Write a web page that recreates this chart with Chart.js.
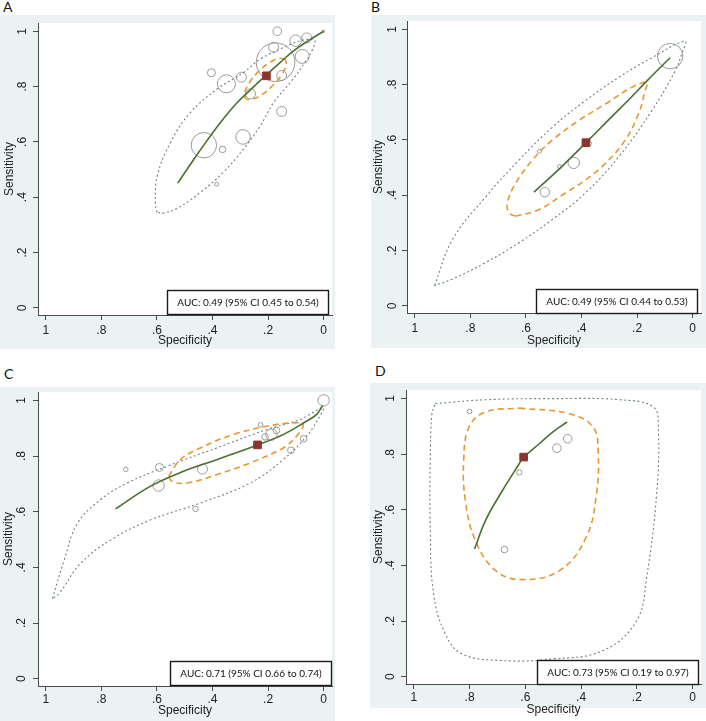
<!DOCTYPE html>
<html><head><meta charset="utf-8">
<script src="https://cdn.jsdelivr.net/npm/chart.js@4.4.0/dist/chart.umd.min.js"></script>
<style>
html,body{margin:0;padding:0;background:#fff;width:706px;height:721px;overflow:hidden;}
.panel{position:absolute;}
.panel canvas{display:block;}
.lbl{position:absolute;font-family:Lato,"Open Sans",sans-serif;font-size:14px;line-height:14px;color:#111;}
</style></head><body>
<div class="lbl" style="left:3px;top:0px">A</div>
<div class="lbl" style="left:371px;top:0px">B</div>
<div class="lbl" style="left:4px;top:367px">C</div>
<div class="lbl" style="left:375px;top:364px">D</div>
<div class="panel" id="pA" style="left:0px;top:15px"><canvas id="cA" width="335" height="334"></canvas></div>
<div class="panel" id="pB" style="left:371px;top:15px"><canvas id="cB" width="335" height="333"></canvas></div>
<div class="panel" id="pC" style="left:0px;top:387px"><canvas id="cC" width="335" height="334"></canvas></div>
<div class="panel" id="pD" style="left:370px;top:383px"><canvas id="cD" width="336" height="338"></canvas></div>
<script>
// ---------- shared axis ticks ----------
const tickValues = [0, 0.2, 0.4, 0.6, 0.8, 1];
const tickLabels = ['0', '.2', '.4', '.6', '.8', '1'];
const aucLabels = [
  'AUC: 0.49 (95% CI 0.45 to 0.54)',
  'AUC: 0.49 (95% CI 0.44 to 0.53)',
  'AUC: 0.71 (95% CI 0.66 to 0.74)',
  'AUC: 0.73 (95% CI 0.19 to 0.97)'
];

// ---------- Panel A ----------
const aStudySpec = [0.167,0.101,0.061,0.077,0.180,0.173,0.404,0.350,0.296,0.263,0.151,0.151,0.290,0.431,0.364,0.385,0.001];
const aStudySens = [1.000,0.966,0.976,0.909,0.942,0.888,0.850,0.810,0.834,0.774,0.840,0.710,0.618,0.588,0.573,0.447,1.000];
const aStudyWeight = [4.3,5.7,5,7,5,19.3,4,9,5,5,5,5,7.3,12.7,3.3,2,1.3];
const aSummary = [0.206, 0.839];
const aCurveSpec = [0.525,0.470,0.423,0.370,0.315,0.260,0.209,0.157,0.107,0.052,0.000];
const aCurveSens = [0.451,0.533,0.600,0.672,0.738,0.792,0.840,0.887,0.930,0.968,1.000];
const aConfSpec = [0.138,0.161,0.196,0.235,0.267,0.283,0.280,0.258,0.222,0.184,0.152,0.135];
const aConfSens = [0.899,0.902,0.886,0.854,0.815,0.780,0.757,0.754,0.771,0.803,0.841,0.877];
const aPredSpec = [0.600,0.606,0.598,0.550,0.478,0.382,0.287,0.227,0.143,0.075,0.033,0.040,0.062,0.119,0.179,0.227,0.287,0.359,0.442,0.526,0.575];
const aPredSens = [0.345,0.380,0.480,0.600,0.708,0.792,0.852,0.900,0.942,0.968,0.968,0.935,0.895,0.816,0.744,0.660,0.576,0.492,0.419,0.360,0.343];

// ---------- Panel B ----------
const bStudySpec = [0.081,0.374,0.428,0.479,0.532,0.551];
const bStudySens = [0.903,0.587,0.517,0.503,0.411,0.559];
const bStudyWeight = [12.7,2.7,5.7,2,4.7,2];
const bSummary = [0.384, 0.590];
const bCurveSpec = [0.571,0.475,0.384,0.300,0.230,0.160,0.081];
const bCurveSens = [0.411,0.500,0.590,0.675,0.745,0.818,0.897];
const bConfSpec = [0.637,0.553,0.458,0.386,0.314,0.243,0.195,0.171,0.165,0.219,0.314,0.410,0.505,0.577,0.637,0.667,0.660];
const bConfSens = [0.324,0.348,0.408,0.455,0.515,0.599,0.694,0.778,0.808,0.790,0.730,0.670,0.599,0.527,0.443,0.372,0.335];
const bPredSpec = [0.929,0.864,0.744,0.625,0.505,0.386,0.266,0.147,0.028,0.040,0.063,0.147,0.266,0.386,0.505,0.625,0.744,0.864];
const bPredSens = [0.073,0.240,0.395,0.527,0.646,0.742,0.826,0.897,0.957,0.910,0.849,0.706,0.539,0.408,0.312,0.228,0.157,0.097];

// ---------- Panel C ----------
const cStudySpec = [0.000,0.227,0.211,0.188,0.170,0.072,0.118,0.436,0.591,0.594,0.712,0.461];
const cStudySens = [1.000,0.912,0.869,0.877,0.892,0.862,0.821,0.753,0.759,0.694,0.752,0.610];
const cStudyWeight = [5.7,2.3,3.3,5.7,3.3,3.3,3.3,5,4,5.7,2.3,2.7];
const cSummary = [0.238, 0.840];
const cCurveSpec = [0.749,0.624,0.504,0.385,0.238,0.146,0.062,0.026,0.003];
const cCurveSens = [0.610,0.691,0.745,0.787,0.840,0.877,0.925,0.949,0.982];
const cConfSpec = [0.558,0.516,0.444,0.325,0.205,0.110,0.074,0.098,0.146,0.265,0.385,0.492,0.546];
const cConfSens = [0.727,0.787,0.829,0.877,0.907,0.919,0.913,0.871,0.829,0.775,0.733,0.703,0.709];
const cPredSpec = [0.976,0.934,0.886,0.803,0.707,0.564,0.385,0.205,0.086,0.003,0.014,0.062,0.146,0.265,0.444,0.624,0.767,0.875,0.952];
const cPredSens = [0.288,0.426,0.558,0.643,0.703,0.763,0.829,0.895,0.931,0.974,0.943,0.871,0.787,0.703,0.631,0.570,0.498,0.414,0.306];

// ---------- Panel D ----------
const dStudySpec = [0.800,0.448,0.487,0.622,0.675];
const dStudySens = [0.953,0.855,0.821,0.734,0.457];
const dStudyWeight = [2.3,4.3,4.3,2.7,3.3];
const dSummary = [0.606, 0.789];
const dCurveSpec = [0.782,0.743,0.682,0.622,0.606,0.550,0.502,0.450];
const dCurveSens = [0.459,0.561,0.669,0.765,0.789,0.837,0.879,0.915];
const dConfSpec = [0.622,0.442,0.357,0.339,0.345,0.382,0.478,0.616,0.706,0.779,0.815,0.821,0.802,0.743];
const dConfSens = [0.965,0.945,0.897,0.813,0.657,0.501,0.381,0.349,0.381,0.489,0.633,0.777,0.897,0.951];
const dPredSpec = [0.923,0.743,0.502,0.261,0.141,0.123,0.129,0.165,0.201,0.321,0.502,0.682,0.827,0.887,0.929,0.941,0.941,0.935];
const dPredSens = [0.981,0.995,0.999,0.995,0.969,0.897,0.657,0.357,0.201,0.094,0.064,0.058,0.082,0.154,0.297,0.537,0.777,0.945];

// ---------- helpers ----------
function pts(xs, ys) { return xs.map((x, i) => ({ x: x, y: ys[i] })); }
function closedPts(xs, ys) { const p = pts(xs, ys); p.push({ x: xs[0], y: ys[0] }); return p; }
function bubbles(xs, ys, ws) { return xs.map((x, i) => ({ x: x, y: ys[i], r: ws[i] })); }

const panels = [
  { canvas: 'cA', spec: aStudySpec, sens: aStudySens, w: aStudyWeight, sum: aSummary, cx: aCurveSpec, cy: aCurveSens, kx: aConfSpec, ky: aConfSens, px: aPredSpec, py: aPredSens, auc: aucLabels[0],
    L: { grayH: 334, padTop: 8, padRight: 3, yW: 38, xH: 34, tickPad: 3, xTitlePad: 1, yTitlePad: 2.3, yLabOff: 15.8, boxInset: 4, boxBottom: 1 } },
  { canvas: 'cB', spec: bStudySpec, sens: bStudySens, w: bStudyWeight, sum: bSummary, cx: bCurveSpec, cy: bCurveSens, kx: bConfSpec, ky: bConfSens, px: bPredSpec, py: bPredSens, auc: aucLabels[1],
    L: { grayH: 333, padTop: 6, padRight: 5, yW: 36, xH: 35, tickPad: 3, xTitlePad: 0, yTitlePad: 0.9, yLabOff: 14.2, boxInset: 4, boxBottom: 0 } },
  { canvas: 'cC', spec: cStudySpec, sens: cStudySens, w: cStudyWeight, sum: cSummary, cx: cCurveSpec, cy: cCurveSens, kx: cConfSpec, ky: cConfSens, px: cPredSpec, py: cPredSens, auc: aucLabels[2],
    L: { grayH: 334, padTop: 5, padRight: 3, yW: 38, xH: 35, tickPad: 1.7, xTitlePad: 2.8, yTitlePad: 1.3, yLabOff: 16, boxInset: 1, boxBottom: 1 } },
  { canvas: 'cD', spec: dStudySpec, sens: dStudySens, w: dStudyWeight, sum: dSummary, cx: dCurveSpec, cy: dCurveSens, kx: dConfSpec, ky: dConfSens, px: dPredSpec, py: dPredSens, auc: aucLabels[3],
    L: { grayH: 325, padTop: 7, padRight: 5, yW: 36, xH: 37, tickPad: 1, xTitlePad: 4.3, yTitlePad: 1.8, yLabOff: 15.5, boxInset: 3, boxBottom: 0 } }
];

const AXIS_FONT = { family: '"Liberation Sans", Arial, sans-serif', size: 12 };
const AXIS_COLOR = '#4a4a4a';
const TEXT_COLOR = '#222';

const panelBg = {
  id: 'panelBg',
  beforeDraw(chart, args, opts) {
    const { ctx, chartArea: a } = chart;
    ctx.save();
    ctx.fillStyle = '#eaf2f3';
    ctx.fillRect(0, 0, chart.width, opts.grayH);
    ctx.fillStyle = '#ffffff';
    ctx.fillRect(a.left, a.top, a.right - a.left, a.bottom - a.top);
    ctx.restore();
  }
};

const yTickLabels = {
  id: 'yTickLabels',
  afterDraw(chart, args, opts) {
    const s = chart.scales.y, ctx = chart.ctx;
    ctx.save();
    ctx.font = '12px "Liberation Sans", Arial, sans-serif';
    ctx.fillStyle = TEXT_COLOR;
    ctx.textAlign = 'center';
    ctx.textBaseline = 'middle';
    tickValues.forEach((v, i) => {
      const y = s.getPixelForValue(v);
      ctx.save();
      ctx.translate(s.right - opts.off, y);
      ctx.rotate(-Math.PI / 2);
      ctx.fillText(tickLabels[i], 0, 0);
      ctx.restore();
    });
    ctx.restore();
  }
};

const aucBox = {
  id: 'aucBox',
  afterDraw(chart, args, opts) {
    const { ctx, chartArea: a } = chart;
    ctx.save();
    ctx.font = '10px Lato, "Open Sans", sans-serif';
    const tw = ctx.measureText(opts.text).width;
    const w = Math.round(tw + 20), h = 24;
    const x = Math.round(a.right - opts.inset - w) + 0.5;
    const y = Math.round(a.bottom - opts.bottom - h) + 0.5;
    ctx.fillStyle = '#ffffff';
    ctx.fillRect(x, y, w, h);
    ctx.strokeStyle = '#1a1a1a';
    ctx.lineWidth = 1.4;
    ctx.strokeRect(x, y, w, h);
    ctx.fillStyle = '#111';
    ctx.textAlign = 'center';
    ctx.textBaseline = 'middle';
    ctx.fillText(opts.text, x + w / 2, y + h / 2 + 0.5);
    ctx.restore();
  }
};

panels.forEach(P => {
  const L = P.L;
  new Chart(document.getElementById(P.canvas), {
    type: 'scatter',
    data: {
      datasets: [
        { type: 'scatter', data: [{ x: P.sum[0], y: P.sum[1] }], pointStyle: 'rect', pointRadius: 5.4,
          backgroundColor: '#8b3530', borderColor: '#8b3530', borderWidth: 1, order: 0 },
        { type: 'line', data: pts(P.cx, P.cy), showLine: true, borderColor: '#4b6f2e', borderWidth: 1.6,
          pointRadius: 0, tension: 0.4, fill: false, order: 1 },
        { type: 'line', data: closedPts(P.kx, P.ky), showLine: true, borderColor: '#e8972f', borderWidth: 1.6,
          borderDash: [6, 4], pointRadius: 0, tension: 0.4, fill: false, order: 2 },
        { type: 'line', data: closedPts(P.px, P.py), showLine: true, borderColor: '#6d8289', borderWidth: 1.1,
          borderDash: [2, 2.5], pointRadius: 0, tension: 0.4, fill: false, order: 3 },
        { type: 'bubble', data: bubbles(P.spec, P.sens, P.w), backgroundColor: 'rgba(0,0,0,0)',
          borderColor: '#9b9b9b', borderWidth: 1, order: 4 }
      ]
    },
    options: {
      responsive: false,
      animation: false,
      events: [],
      layout: { autoPadding: false, padding: { top: L.padTop, right: L.padRight, left: 0, bottom: 0 } },
      plugins: {
        legend: { display: false },
        tooltip: { enabled: false },
        panelBg: { grayH: L.grayH },
        yTickLabels: { off: L.yLabOff },
        aucBox: { text: P.auc, inset: L.boxInset, bottom: L.boxBottom }
      },
      scales: {
        x: {
          type: 'linear', reverse: true, min: -0.03, max: 1.028,
          afterBuildTicks: s => { s.ticks = tickValues.map(v => ({ value: v })); },
          afterFit: s => { s.height = L.xH; },
          ticks: { callback: v => tickLabels[tickValues.indexOf(v)], padding: L.tickPad, font: AXIS_FONT,
                   color: TEXT_COLOR, maxRotation: 0, minRotation: 0, autoSkip: false },
          grid: { drawOnChartArea: false, drawTicks: true, tickLength: 5, color: AXIS_COLOR, lineWidth: 1 },
          border: { display: true, color: AXIS_COLOR, width: 1 },
          title: { display: true, text: 'Specificity', font: AXIS_FONT, color: TEXT_COLOR,
                   padding: { top: 0, bottom: L.xTitlePad } }
        },
        y: {
          type: 'linear', min: -0.026, max: 1.03,
          afterBuildTicks: s => { s.ticks = tickValues.map(v => ({ value: v })); },
          afterFit: s => { s.width = L.yW; },
          ticks: { display: false },
          grid: { drawOnChartArea: false, drawTicks: true, tickLength: 5, color: AXIS_COLOR, lineWidth: 1 },
          border: { display: true, color: AXIS_COLOR, width: 1 },
          title: { display: true, text: 'Sensitivity', font: AXIS_FONT, color: TEXT_COLOR,
                   padding: { top: L.yTitlePad, bottom: 0 } }
        }
      }
    },
    plugins: [panelBg, yTickLabels, aucBox]
  });
});
</script>
</body></html>
